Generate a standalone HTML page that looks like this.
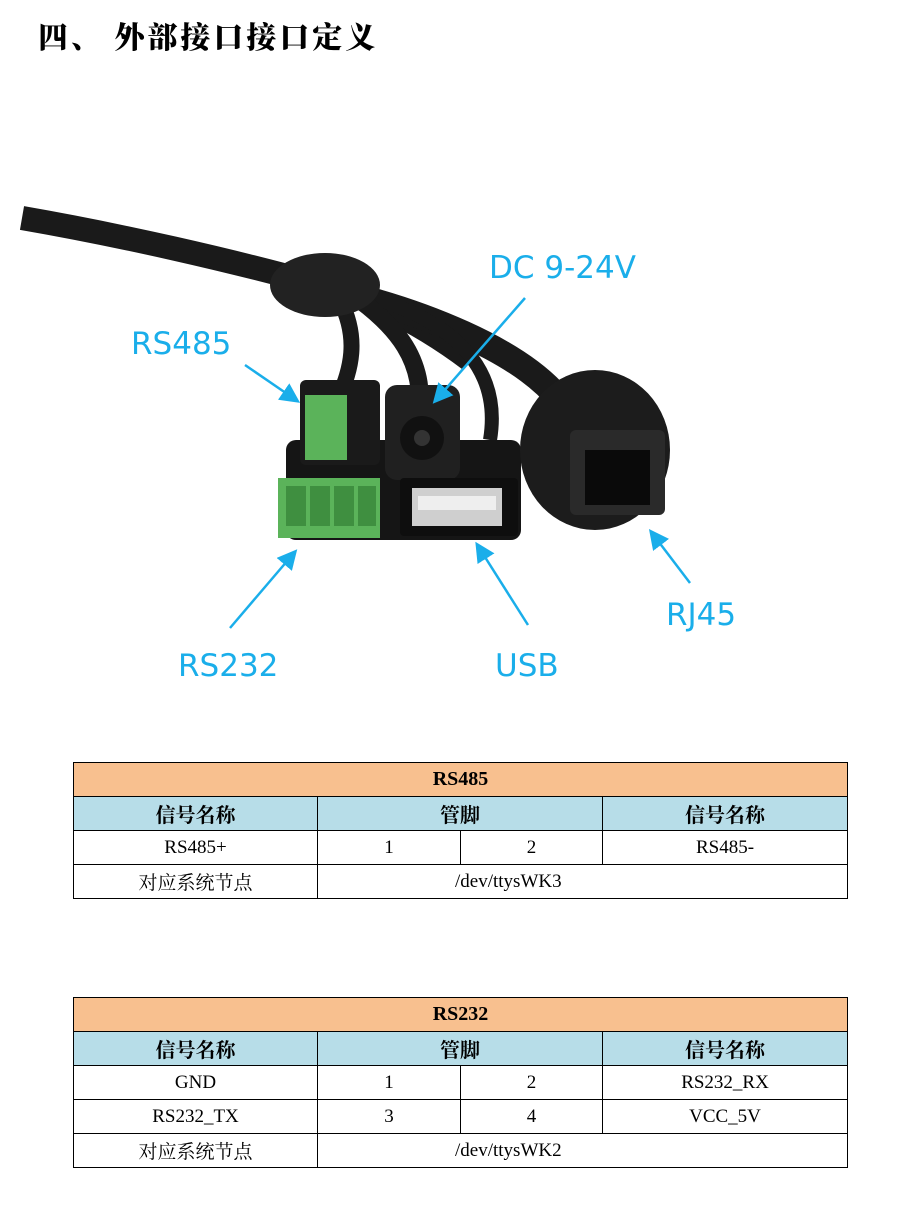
<!DOCTYPE html>
<html><head><meta charset="utf-8"><style>
body{margin:0;background:#fff;width:913px;height:1222px;position:relative;overflow:hidden;font-family:"Liberation Serif","Noto Serif CJK SC",serif}
h1{position:absolute;left:38px;top:13px;margin:0;font-size:30px;font-weight:900;letter-spacing:3px;font-family:"Noto Serif CJK SC",serif}
table{position:absolute;left:73px;border-collapse:collapse;width:774px;table-layout:fixed}
td{border:1px solid #000;height:33px;padding:0;text-align:center;font-size:19px;font-family:"Liberation Serif","Noto Serif CJK SC",serif}
.o{background:#f8c08f;font-weight:bold;font-size:20px}
.b{background:#b7dde8;font-weight:bold;font-size:20px}
.lbl{position:absolute;color:#1aaeea;font-family:"DejaVu Sans","Liberation Sans",sans-serif;font-size:31px}
</style></head><body>
<h1>四、 外部接口接口定义</h1>
<svg style="position:absolute;left:0;top:0" width="913" height="760">
<defs><marker id="a" markerWidth="8" markerHeight="8" refX="6" refY="4" orient="auto"><path d="M0,0L8,4L0,8z" fill="#1aaeea"/></marker></defs>
<path d="M22,218 C120,235 230,260 320,285 C380,300 430,330 470,360" stroke="#1a1a1a" stroke-width="24" fill="none"/>
<path d="M330,290 C420,310 520,350 560,400" stroke="#1a1a1a" stroke-width="26" fill="none"/>
<path d="M360,300 C400,330 420,360 420,400" stroke="#1a1a1a" stroke-width="18" fill="none"/>
<path d="M340,300 C360,340 350,370 340,395" stroke="#1a1a1a" stroke-width="16" fill="none"/>
<path d="M380,300 C470,330 500,380 490,440" stroke="#1a1a1a" stroke-width="14" fill="none"/>
<ellipse cx="325" cy="285" rx="55" ry="32" fill="#222"/>
<rect x="286" y="440" width="235" height="100" rx="10" fill="#151515"/>
<rect x="300" y="380" width="80" height="85" rx="6" fill="#1a1a1a"/>
<rect x="305" y="395" width="42" height="65" fill="#5bb35a"/>
<rect x="385" y="385" width="75" height="95" rx="12" fill="#202020"/>
<circle cx="422" cy="438" r="22" fill="#111"/><circle cx="422" cy="438" r="8" fill="#333"/>
<rect x="278" y="478" width="102" height="60" fill="#5bb35a"/>
<rect x="286" y="486" width="20" height="40" fill="#3f8f40"/><rect x="310" y="486" width="20" height="40" fill="#3f8f40"/><rect x="334" y="486" width="20" height="40" fill="#3f8f40"/><rect x="358" y="486" width="18" height="40" fill="#3f8f40"/>
<rect x="400" y="478" width="118" height="58" rx="4" fill="#0e0e0e"/>
<rect x="412" y="488" width="90" height="38" fill="#cfcfcf"/><rect x="418" y="496" width="78" height="14" fill="#eee"/>
<ellipse cx="595" cy="450" rx="75" ry="80" fill="#1c1c1c"/>
<rect x="570" y="430" width="95" height="85" rx="6" fill="#2a2a2a"/>
<rect x="585" y="450" width="65" height="55" fill="#0a0a0a"/>
<g stroke="#1aaeea" stroke-width="2.5" marker-end="url(#a)">
<line x1="245" y1="365" x2="296" y2="400"/>
<line x1="525" y1="298" x2="436" y2="400"/>
<line x1="230" y1="628" x2="294" y2="553"/>
<line x1="528" y1="625" x2="478" y2="546"/>
<line x1="690" y1="583" x2="652" y2="533"/>
</g>
</svg>
<div class="lbl" style="left:131px;top:326px">RS485</div>
<div class="lbl" style="left:489px;top:250px">DC 9-24V</div>
<div class="lbl" style="left:178px;top:648px">RS232</div>
<div class="lbl" style="left:495px;top:648px">USB</div>
<div class="lbl" style="left:666px;top:597px">RJ45</div>
<table style="top:762px">
<colgroup><col style="width:244px"><col style="width:143px"><col style="width:142px"><col style="width:245px"></colgroup>
<tr><td class="o" colspan="4">RS485</td></tr>
<tr><td class="b">信号名称</td><td class="b" colspan="2">管脚</td><td class="b">信号名称</td></tr>
<tr><td>RS485+</td><td>1</td><td>2</td><td>RS485-</td></tr>
<tr><td>对应系统节点</td><td colspan="3" style="text-align:left;padding-left:137px">/dev/ttysWK3</td></tr>
</table>
<table style="top:997px">
<colgroup><col style="width:244px"><col style="width:143px"><col style="width:142px"><col style="width:245px"></colgroup>
<tr><td class="o" colspan="4">RS232</td></tr>
<tr><td class="b">信号名称</td><td class="b" colspan="2">管脚</td><td class="b">信号名称</td></tr>
<tr><td>GND</td><td>1</td><td>2</td><td>RS232_RX</td></tr>
<tr><td>RS232_TX</td><td>3</td><td>4</td><td>VCC_5V</td></tr>
<tr><td>对应系统节点</td><td colspan="3" style="text-align:left;padding-left:137px">/dev/ttysWK2</td></tr>
</table>
</body></html>
